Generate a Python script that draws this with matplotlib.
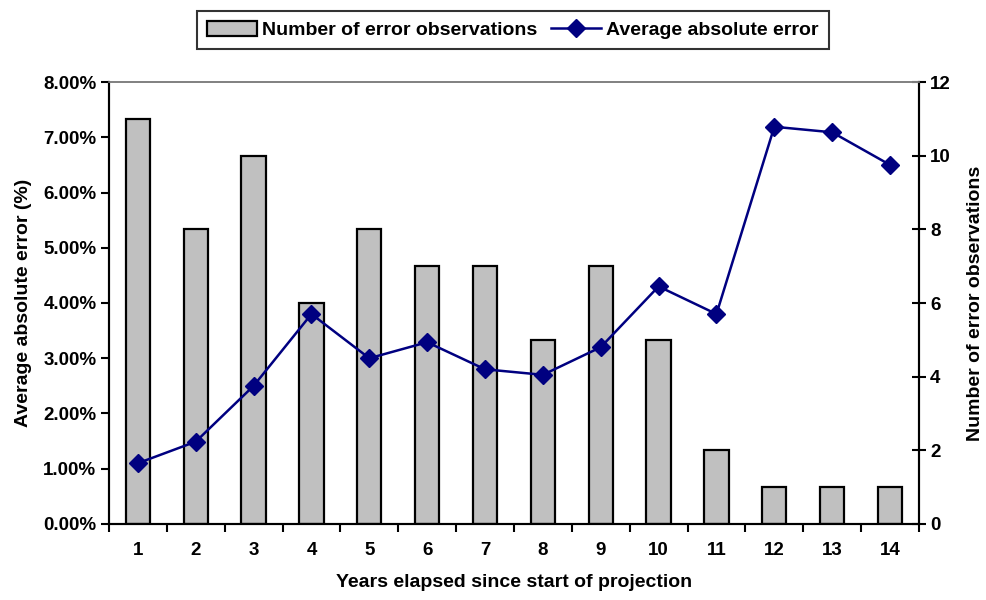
import matplotlib.pyplot as plt
from matplotlib.ticker import FuncFormatter, MultipleLocator
from matplotlib.lines import Line2D
from matplotlib.patches import Patch

years = list(range(1, 15))
error_counts = [11, 8, 10, 6, 8, 7, 7, 5, 7, 5, 2, 1, 1, 1]
avg_abs_error = [1.10, 1.49, 2.50, 3.80, 3.00, 3.29, 2.80, 2.70, 3.20, 4.30, 3.80, 7.19, 7.09, 6.50]

plt.rcParams["font.family"] = ["Liberation Sans", "DejaVu Sans"]
plt.rcParams["font.weight"] = "bold"

TICK_SIZE = 13.5
LABEL_SIZE = 14

fig = plt.figure(figsize=(9.86, 6), dpi=100)
ax_bar = fig.add_axes([0.1105, 0.1267, 0.8215, 0.7366])
ax_line = ax_bar.twinx()

# bars on the base axes, but its scale shown on the right
ax_bar.bar(years, error_counts, width=0.42, color="#C0C0C0",
           edgecolor="black", linewidth=1.6, zorder=2)
ax_bar.set_ylim(0, 12)
ax_bar.set_xlim(0.5, 14.5)
ax_bar.yaxis.set_major_locator(MultipleLocator(2))
ax_bar.yaxis.tick_right()
ax_bar.yaxis.set_label_position("right")
ax_bar.tick_params(axis="y", direction="inout", length=10, width=1.5,
                   labelsize=TICK_SIZE, pad=3)
ax_bar.set_ylabel("Number of error observations", fontsize=LABEL_SIZE,
                  fontweight="bold", labelpad=12)

ax_bar.set_xticks(years)
ax_bar.set_xticks([y + 0.5 for y in range(0, 15)], minor=True)
ax_bar.tick_params(axis="x", which="major", length=0, labelsize=TICK_SIZE, pad=13)
ax_bar.tick_params(axis="x", which="minor", direction="out", length=6, width=1.5)
ax_bar.set_xlabel("Years elapsed since start of projection", fontsize=LABEL_SIZE,
                  fontweight="bold", labelpad=11)

# line on the twin, scale on the left
ax_line.plot(years, avg_abs_error, color="#000080", linewidth=1.8,
             marker="D", markersize=9, zorder=3)
ax_line.set_ylim(0, 8)
ax_line.yaxis.set_major_locator(MultipleLocator(1))
ax_line.yaxis.set_major_formatter(FuncFormatter(lambda v, p: f"{v:.2f}%"))
ax_line.yaxis.tick_left()
ax_line.yaxis.set_label_position("left")
ax_line.tick_params(axis="y", direction="out", length=6, width=1.5,
                    labelsize=TICK_SIZE, pad=3)
ax_line.set_ylabel("Average absolute error (%)", fontsize=LABEL_SIZE,
                   fontweight="bold", labelpad=8)

for a in (ax_bar, ax_line):
    for side in ("left", "right", "bottom"):
        a.spines[side].set_linewidth(1.5)
        a.spines[side].set_color("black")
    a.spines["top"].set_color("#808080")
    a.spines["top"].set_linewidth(1.2)

handles = [
    Patch(facecolor="#C0C0C0", edgecolor="black", linewidth=1.6),
    Line2D([0], [0], color="#000080", linewidth=1.8, marker="D", markersize=9),
]
labels = ["Number of error observations", "Average absolute error"]
leg = fig.legend(handles, labels, loc="upper center", bbox_to_anchor=(0.52, 0.998),
                 ncol=2, fontsize=LABEL_SIZE, frameon=True, fancybox=False,
                 handlelength=2.6, handleheight=0.8, handletextpad=0.25,
                 columnspacing=0.7, borderpad=0.5)
leg.get_frame().set_edgecolor("black")
leg.get_frame().set_linewidth(1.5)

fig.savefig("out.png", dpi=100)
